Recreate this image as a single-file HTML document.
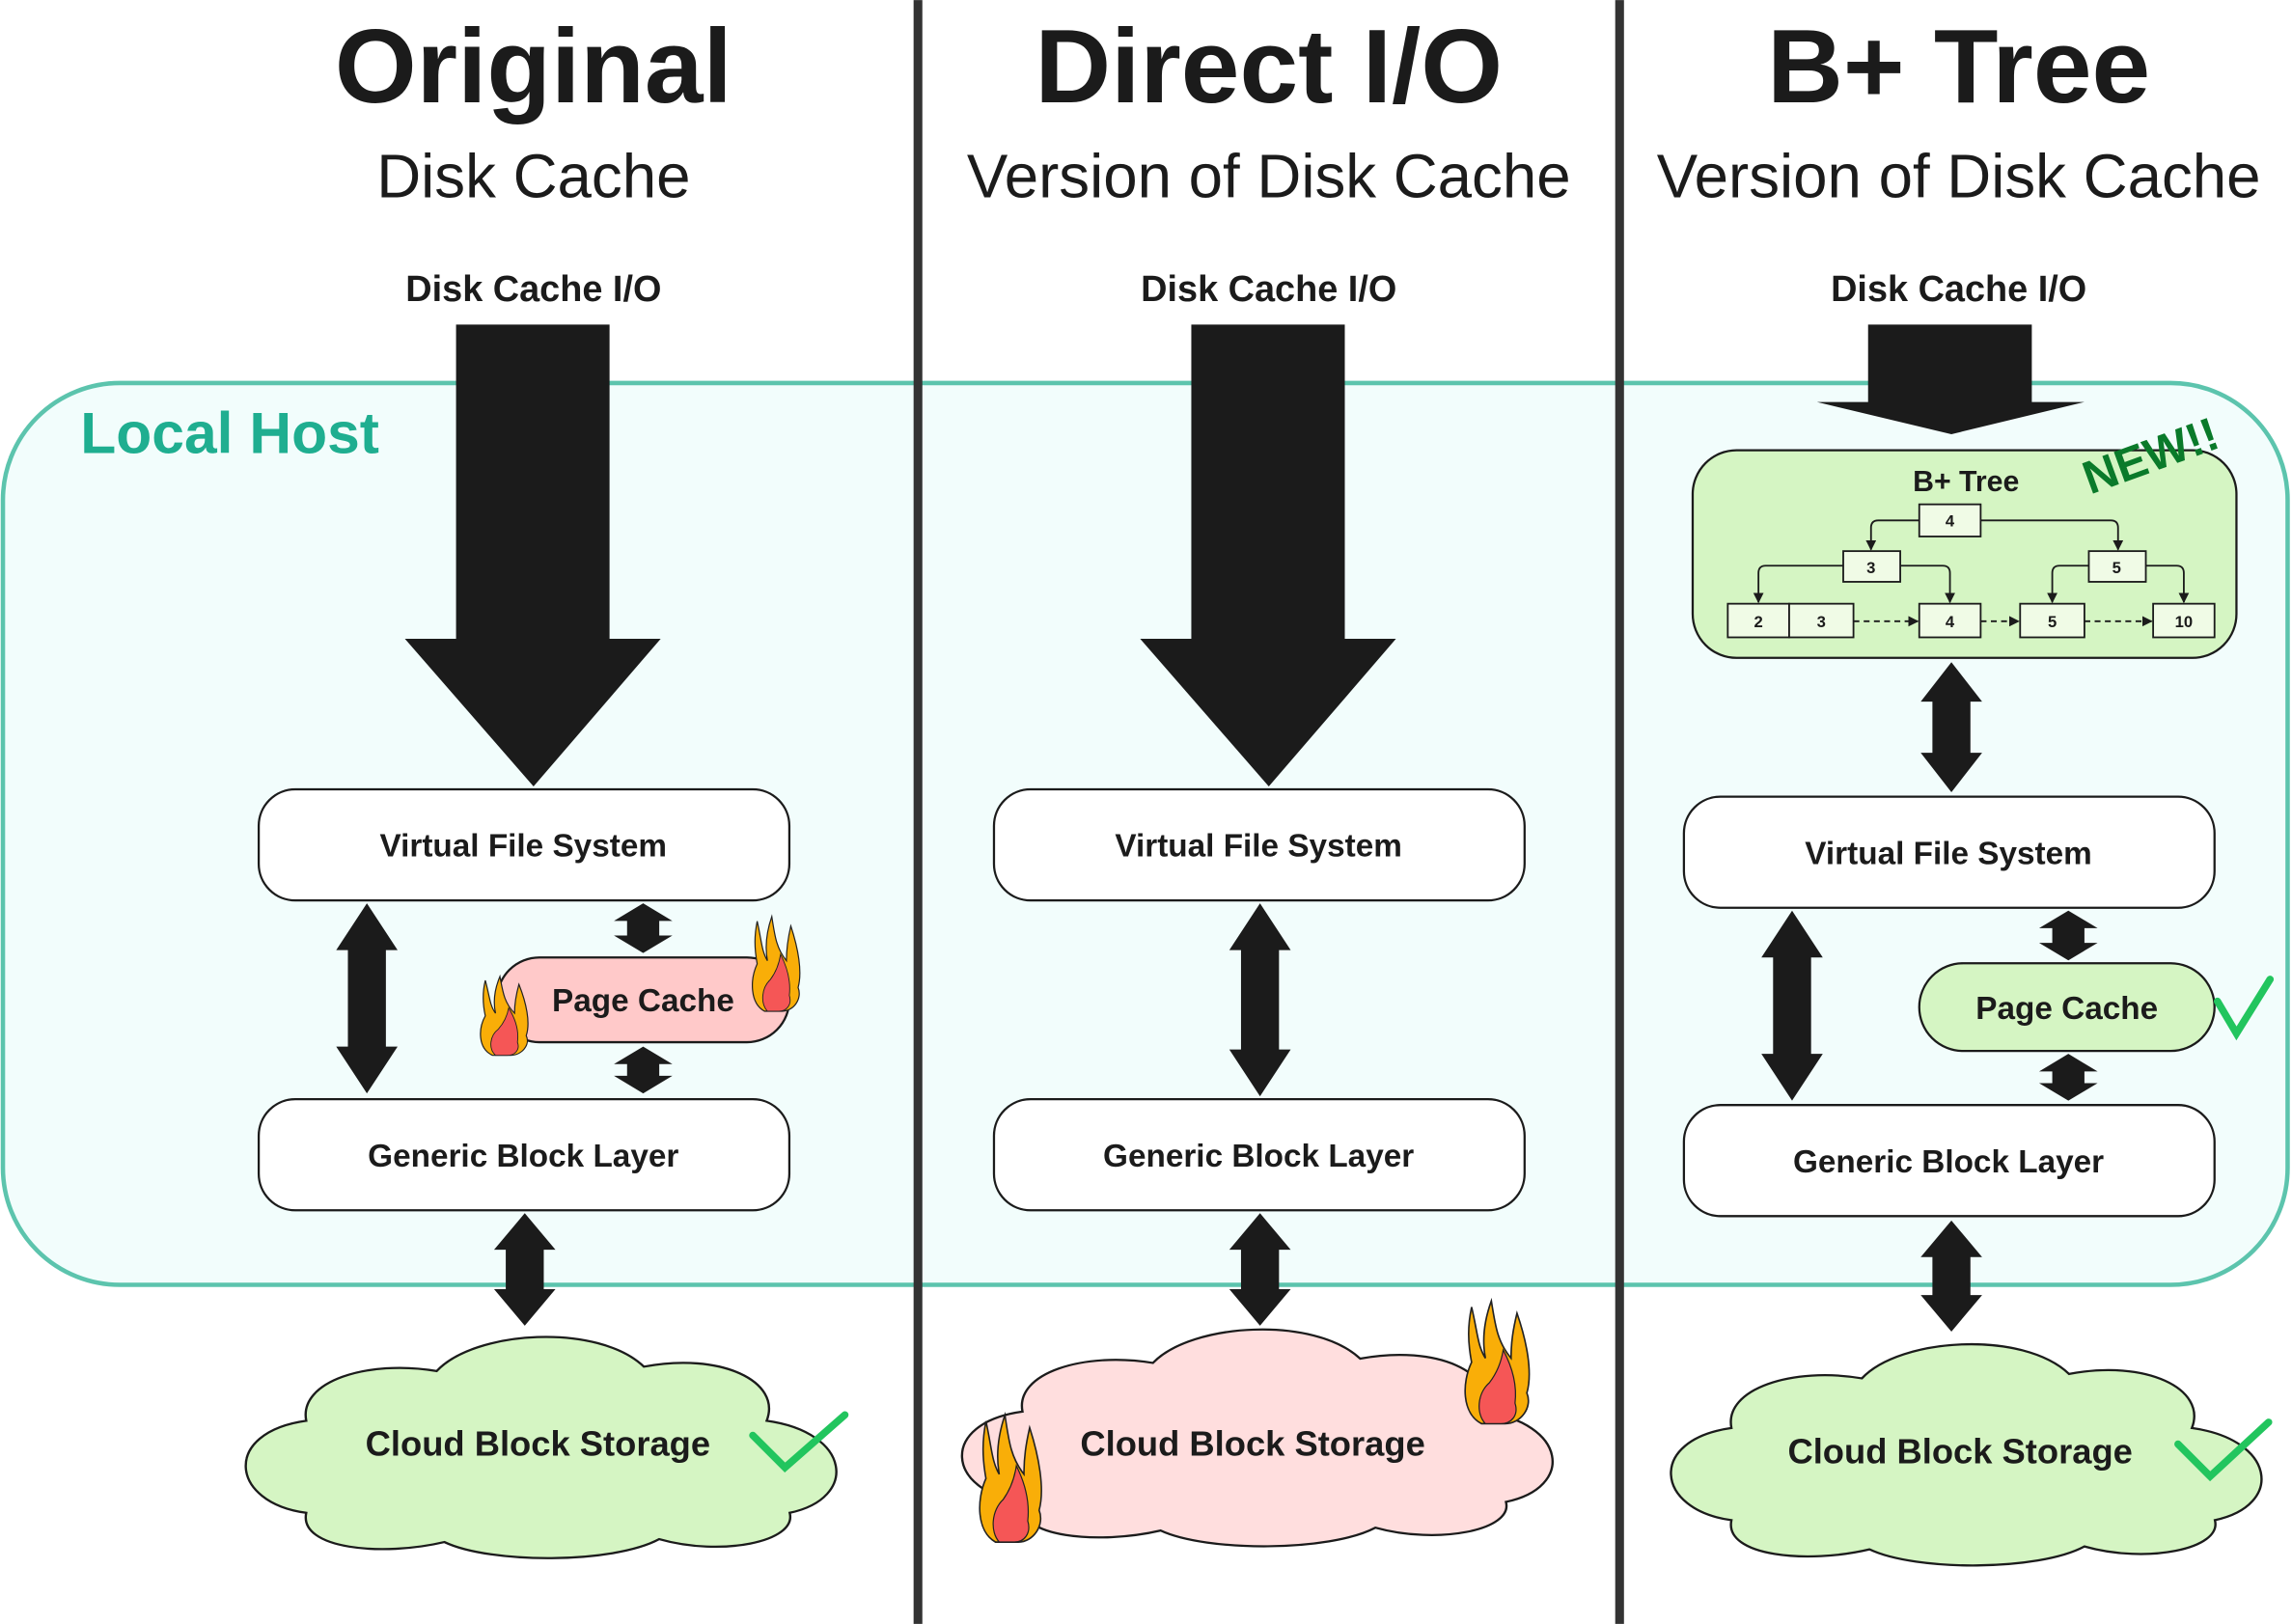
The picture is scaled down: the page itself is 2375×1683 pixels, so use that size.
<!DOCTYPE html>
<html><head><meta charset="utf-8"><style>
html,body{margin:0;padding:0;background:#fff;}
svg{display:block;}
text{font-family:"Liberation Sans",sans-serif;fill:#1b1b1b;}
</style></head><body>
<svg width="2375" height="1683" viewBox="0 0 1568 1111" xmlns="http://www.w3.org/2000/svg">
<defs>
<g id="flame">
<path d="M10 60 C0 55 0 40 5 30 C3 20 3 12 5 3 C8 15 8 22 12 28 C10 18 12 8 15 0 C17 12 18 20 25 28 C25 20 26 14 28 6 C33 20 36 35 33 45 C36 52 30 60 22 60 Z" fill="#f9ae08" stroke="#222" stroke-width="0.8"/>
<path d="M12 60 C7 55 8 45 14 40 C18 35 20 30 21 24 C26 33 28 42 27 50 C29 56 25 60 20 60 Z" fill="#f55656" stroke="#222" stroke-width="0.6"/>
</g>
<path id="cloud" d="M50 125 C0 118 -5 70 50 62 C45 35 90 20 135 28 C160 0 240 -5 270 25 C320 15 360 35 350 62 C405 70 410 115 365 125 C370 145 320 155 280 143 C250 160 170 160 140 145 C100 155 45 150 50 125 Z"/>
<marker id="ah" viewBox="0 0 10 10" refX="9" refY="5" markerWidth="6" markerHeight="6" orient="auto"><path d="M0 0 L10 5 L0 10 Z" fill="#1b1b1b"/></marker>
</defs>

<rect x="2" y="262" width="1563" height="617" rx="80" fill="#f2fdfc" stroke="#5cc4ad" stroke-width="3"/>
<text x="55" y="310" font-size="40" font-weight="bold" style="fill:#1fae90">Local Host</text>

<rect x="625" y="0" width="6" height="1111" fill="#333"/>
<rect x="1105" y="0" width="6" height="1111" fill="#333"/>

<g text-anchor="middle">
<text x="365" y="70" font-size="72" font-weight="bold">Original</text>
<text x="365" y="135" font-size="42">Disk Cache</text>
<text x="868" y="70" font-size="72" font-weight="bold">Direct I/O</text>
<text x="868" y="135" font-size="42">Version of Disk Cache</text>
<text x="1340" y="70" font-size="72" font-weight="bold">B+ Tree</text>
<text x="1340" y="135" font-size="42">Version of Disk Cache</text>
<text x="365" y="206" font-size="25" font-weight="bold">Disk Cache I/O</text>
<text x="868" y="206" font-size="25" font-weight="bold">Disk Cache I/O</text>
<text x="1340" y="206" font-size="25" font-weight="bold">Disk Cache I/O</text>
</g>

<path d="M312 222 H417 V437 H452 L365 538 L277 437 H312 Z" fill="#1b1b1b"/>
<path d="M815 222 H920 V437 H955 L868 538 L780 437 H815 Z" fill="#1b1b1b"/>
<path d="M1278 222 H1390 V275 H1426 L1335 297 L1243 275 H1278 Z" fill="#1b1b1b"/>

<g fill="#1b1b1b">
<path d="M251 618 L272 650 H264 V716 H272 L251 748 L230 716 H238 V650 H230 Z"/>
<path d="M440 618 L460 630 H451 V640 H460 L440 652 L420 640 H429 V630 H420 Z"/>
<path d="M440 716 L460 728 H451 V736 H460 L440 748 L420 736 H429 V728 H420 Z"/>
<path d="M359 830 L380 855 H372 V882 H380 L359 907 L338 882 H346 V855 H338 Z"/>
<path d="M862 618 L883 650 H875 V718 H883 L862 750 L841 718 H849 V650 H841 Z"/>
<path d="M862 830 L883 855 H875 V882 H883 L862 907 L841 882 H849 V855 H841 Z"/>
<path d="M1335 453 L1356 480 H1348 V515 H1356 L1335 542 L1314 515 H1322 V480 H1314 Z"/>
<path d="M1226 623 L1247 655 H1239 V721 H1247 L1226 753 L1205 721 H1213 V655 H1205 Z"/>
<path d="M1415 623 L1435 635 H1426 V645 H1435 L1415 657 L1395 645 H1404 V635 H1395 Z"/>
<path d="M1415 721 L1435 733 H1426 V741 H1435 L1415 753 L1395 741 H1404 V733 H1395 Z"/>
<path d="M1335 835 L1356 860 H1348 V886 H1356 L1335 911 L1314 886 H1322 V860 H1314 Z"/>
</g>

<g stroke="#1b1b1b" stroke-width="1.5" fill="#fff">
<rect x="177" y="540" width="363" height="76" rx="25"/>
<rect x="177" y="752" width="363" height="76" rx="25"/>
<rect x="680" y="540" width="363" height="76" rx="25"/>
<rect x="680" y="752" width="363" height="76" rx="25"/>
<rect x="1152" y="545" width="363" height="76" rx="25"/>
<rect x="1152" y="756" width="363" height="76" rx="25"/>
<rect x="340" y="655" width="200" height="58" rx="29" fill="#ffc9c9"/>
<rect x="1313" y="659" width="202" height="60" rx="30" fill="#d5f5c3"/>
</g>
<g text-anchor="middle" font-size="22" font-weight="bold">
<text x="358" y="586">Virtual File System</text>
<text x="358" y="798">Generic Block Layer</text>
<text x="861" y="586">Virtual File System</text>
<text x="861" y="798">Generic Block Layer</text>
<text x="1333" y="591">Virtual File System</text>
<text x="1333" y="802">Generic Block Layer</text>
<text x="440" y="692">Page Cache</text>
<text x="1414" y="697">Page Cache</text>
</g>

<use href="#cloud" transform="translate(157 910) scale(1.05 1.0)" fill="#d5f5c3" stroke="#1b1b1b" stroke-width="1.5"/>
<use href="#cloud" transform="translate(647 905) scale(1.05 0.98)" fill="#ffdede" stroke="#1b1b1b" stroke-width="1.5"/>
<use href="#cloud" transform="translate(1132 915) scale(1.05 1.0)" fill="#d5f5c3" stroke="#1b1b1b" stroke-width="1.5"/>
<g text-anchor="middle" font-size="24" font-weight="bold">
<text x="368" y="996">Cloud Block Storage</text>
<text x="857" y="996">Cloud Block Storage</text>
<text x="1341" y="1001">Cloud Block Storage</text>
</g>

<g fill="none" stroke="#22c55e" stroke-width="5" stroke-linecap="round">
<path d="M515 982 L537 1004 L578 968"/>
<path d="M1517 685 L1530 707 L1553 670"/>
<path d="M1490 988 L1512 1010 L1552 973"/>
</g>

<use href="#flame" transform="translate(327 668) scale(1 0.9)"/>
<use href="#flame" transform="translate(513 627) scale(1 1.08)"/>
<use href="#flame" transform="translate(1000 890) scale(1.35 1.4)"/>
<use href="#flame" transform="translate(668 968) scale(1.3 1.45)"/>

<rect x="1158" y="308" width="372" height="142" rx="30" fill="#d5f5c3" stroke="#1b1b1b" stroke-width="1.5"/>
<text x="1345" y="336" text-anchor="middle" font-size="20" font-weight="bold">B+ Tree</text>
<text x="1475" y="322" text-anchor="middle" font-size="32" font-weight="bold" style="fill:#0a7a2a" transform="rotate(-20 1475 322)">NEW!!</text>
<g fill="none" stroke="#1b1b1b" stroke-width="1.2">
<path d="M1313 356 H1285 Q1280 356 1280 361 V376" marker-end="url(#ah)"/>
<path d="M1355 356 H1444 Q1449 356 1449 361 V376" marker-end="url(#ah)"/>
<path d="M1261 387 H1208 Q1203 387 1203 392 V412" marker-end="url(#ah)"/>
<path d="M1300 387 H1329 Q1334 387 1334 392 V412" marker-end="url(#ah)"/>
<path d="M1429 387 H1409 Q1404 387 1404 392 V412" marker-end="url(#ah)"/>
<path d="M1468 387 H1489 Q1494 387 1494 392 V412" marker-end="url(#ah)"/>
<path d="M1268 425 H1312" stroke-dasharray="4 3" marker-end="url(#ah)"/>
<path d="M1355 425 H1381" stroke-dasharray="4 3" marker-end="url(#ah)"/>
<path d="M1426 425 H1472" stroke-dasharray="4 3" marker-end="url(#ah)"/>
</g>
<g fill="#f0fbe6" stroke="#1b1b1b" stroke-width="1.2">
<rect x="1313" y="345" width="42" height="22"/>
<rect x="1261" y="377" width="39" height="21"/>
<rect x="1429" y="377" width="39" height="21"/>
<rect x="1182" y="413" width="42" height="23"/>
<rect x="1224" y="413" width="44" height="23"/>
<rect x="1313" y="413" width="42" height="23"/>
<rect x="1382" y="413" width="44" height="23"/>
<rect x="1473" y="413" width="42" height="23"/>
</g>
<g text-anchor="middle" font-size="11" font-weight="bold">
<text x="1334" y="360">4</text>
<text x="1280" y="392">3</text>
<text x="1448" y="392">5</text>
<text x="1203" y="429">2</text>
<text x="1246" y="429">3</text>
<text x="1334" y="429">4</text>
<text x="1404" y="429">5</text>
<text x="1494" y="429">10</text>
</g>
</svg>
</body></html>
